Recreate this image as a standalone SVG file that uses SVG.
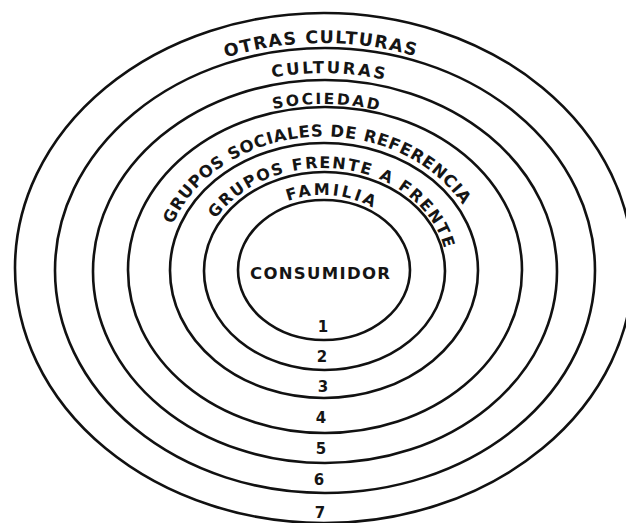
<svg xmlns="http://www.w3.org/2000/svg" width="626" height="523" viewBox="0 0 626 523">
  <style>
    .ring { fill: none; stroke: #111; stroke-width: 2.6; }
    .lbl { font-family: "DejaVu Sans", "Liberation Sans", sans-serif; font-weight: bold; fill: #151515; }
    .num { font-family: "DejaVu Sans", "Liberation Sans", sans-serif; font-weight: bold; font-size: 15px; fill: #151515; text-anchor: middle; }
  </style>
  <defs>
    <path id="p7" d="M 48,270 A 275,227 0 0 1 598,270"/>
    <path id="p6" d="M 86,270 A 237,197 0 0 1 560,270"/>
    <path id="p5" d="M 123,270 A 200,166 0 0 1 523,270"/>
    <path id="p4" d="M 163,270 A 160,133.5 0 0 1 483,270"/>
    <path id="p3" d="M 199,270 A 124,102 0 0 1 447,270"/>
    <path id="p2" d="M 234,270 A 89,75 0 0 1 412,270"/>
  </defs>
  <rect width="626" height="523" fill="#fff"/>

  <g id="ring7">
    <ellipse class="ring" cx="324" cy="268" rx="309" ry="255"/>
    <text class="lbl" font-size="17.5" letter-spacing="1.4" text-anchor="middle"><textPath href="#p7" startOffset="393">OTRAS CULTURAS</textPath></text>
    <text class="num" x="320" y="518">7</text>
  </g>
  <g id="ring6">
    <ellipse class="ring" cx="325" cy="270.5" rx="270" ry="222.5"/>
    <text class="lbl" font-size="16.5" letter-spacing="2.5" text-anchor="middle"><textPath href="#p6" startOffset="348">CULTURAS</textPath></text>
    <text class="num" x="319" y="485">6</text>
  </g>
  <g id="ring5">
    <ellipse class="ring" cx="325" cy="271.5" rx="232" ry="191.5"/>
    <text class="lbl" font-size="15.5" letter-spacing="2.3" text-anchor="middle"><textPath href="#p5" startOffset="292">SOCIEDAD</textPath></text>
    <text class="num" x="321" y="454">5</text>
  </g>
  <g id="ring4">
    <ellipse class="ring" cx="325" cy="270" rx="197" ry="163"/>
    <text class="lbl" font-size="16.5" letter-spacing="0.7" text-anchor="middle"><textPath href="#p4" startOffset="220">GRUPOS SOCIALES DE REFERENCIA</textPath></text>
    <text class="num" x="321" y="423">4</text>
  </g>
  <g id="ring3">
    <ellipse class="ring" cx="324" cy="270.5" rx="154" ry="127.5"/>
    <text class="lbl" font-size="16" letter-spacing="1.7" text-anchor="middle"><textPath href="#p3" startOffset="195">GRUPOS FRENTE A FRENTE</textPath></text>
    <text class="num" x="323" y="392">3</text>
  </g>
  <g id="ring2">
    <ellipse class="ring" cx="324.5" cy="271" rx="120.5" ry="99"/>
    <text class="lbl" font-size="16" letter-spacing="2.6" text-anchor="middle"><textPath href="#p2" startOffset="138">FAMILIA</textPath></text>
    <text class="num" x="322" y="362">2</text>
  </g>
  <g id="ring1">
    <ellipse class="ring" cx="324" cy="270" rx="86" ry="70"/>
    <text class="lbl" font-size="16.5" x="250" y="279" textLength="140" lengthAdjust="spacing">CONSUMIDOR</text>
    <text class="num" x="323" y="332">1</text>
  </g>
</svg>
